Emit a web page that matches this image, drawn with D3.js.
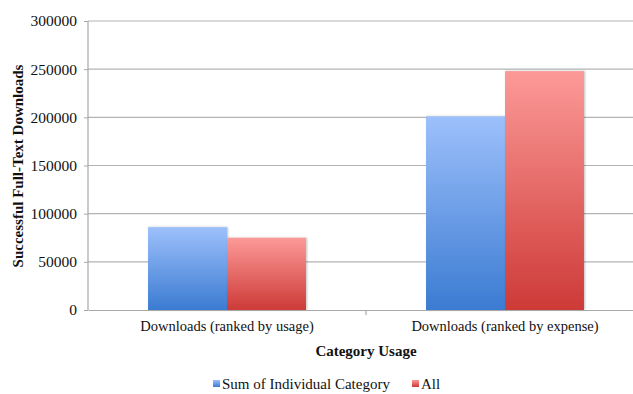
<!DOCTYPE html>
<html><head><meta charset="utf-8">
<script src="https://cdn.jsdelivr.net/npm/d3@7"></script>
<style>body{margin:0;background:#fff}svg{display:block}svg text{font-family:"Liberation Serif",Tinos,"Times New Roman","DejaVu Serif",serif !important;fill:#111}</style>
</head><body><svg id="c" width="633" height="394"></svg>
<script>
const categories = ["Downloads (ranked by usage)", "Downloads (ranked by expense)"];
const seriesNames = ["Sum of Individual Category", "All"];
const sumValues = [86000, 201000];
const allValues = [75000, 248000];
const yTicks = [0, 50000, 100000, 150000, 200000, 250000, 300000];

const svg = d3.select("#c");
const m = {left: 88, top: 21, bottom: 84};
const W = 556, H = 394 - m.top - m.bottom;
const defs = svg.append("defs");
const grads = [["gb", "#9dc0fb", "#3b7bd2"], ["gr", "#fc9a98", "#cd3a37"]];
grads.forEach(([id, a, b]) => {
  const g = defs.append("linearGradient").attr("id", id).attr("x1", 0).attr("x2", 0).attr("y1", 0).attr("y2", 1);
  g.append("stop").attr("offset", "0%").attr("stop-color", a);
  g.append("stop").attr("offset", "100%").attr("stop-color", b);
});
const f = defs.append("filter").attr("id", "sh").attr("x", "-10%").attr("y", "-10%").attr("width", "120%").attr("height", "120%");
f.append("feDropShadow").attr("dx", 1).attr("dy", 0).attr("stdDeviation", 1).attr("flood-color", "#000").attr("flood-opacity", 0.25);

const g = svg.append("g").attr("transform", `translate(${m.left},${m.top})`);
const y = d3.scaleLinear().domain([0, 300000]).range([H, 0]);
const x0 = d3.scaleBand().domain(categories).range([0, W]).paddingInner(0).paddingOuter(0);
const x1 = d3.scaleBand().domain(seriesNames).range([0, x0.bandwidth()]).paddingInner(0).paddingOuter(0.76);

// gridlines
g.append("g").selectAll("line").data(yTicks.filter(d => d > 0)).join("line")
  .attr("x1", 0).attr("x2", W).attr("y1", d => y(d)).attr("y2", d => y(d))
  .attr("stroke", "#b3b3b3").attr("stroke-width", 1.2);

// y axis
const ya = g.append("g").call(d3.axisLeft(y).tickValues(yTicks).tickSize(4).tickPadding(7).tickFormat(d3.format("d")));
ya.attr("font-family", null);
ya.select(".domain").attr("stroke", "#a8a8a8").attr("stroke-width", 1.2).attr("d", `M-4,0.5H0V${H}`);
ya.selectAll(".tick line").attr("stroke", "#a8a8a8");
ya.selectAll("text").style("font-size", "15.5px").attr("fill", "#111");

// bars
const data = categories.map((c, i) => ({c, vals: [{s: seriesNames[0], v: sumValues[i], gid: "gb"}, {s: seriesNames[1], v: allValues[i], gid: "gr"}]}));
g.append("g").selectAll("g").data(data).join("g")
  .attr("transform", d => `translate(${x0(d.c)},0)`)
  .selectAll("rect").data(d => d.vals).join("rect")
  .attr("x", d => x1(d.s)).attr("width", x1.bandwidth())
  .attr("y", d => y(d.v)).attr("height", d => H - y(d.v))
  .attr("fill", d => `url(#${d.gid})`).attr("filter", "url(#sh)");

// x axis
const xa = g.append("g").attr("transform", `translate(0,${H})`).call(d3.axisBottom(x0).tickSize(0).tickPadding(11));
xa.attr("font-family", null);
xa.select(".domain").attr("stroke", "#a8a8a8").attr("stroke-width", 1.2);
xa.selectAll("text").style("font-size", "14.5px").attr("fill", "#111");
g.append("g").selectAll("line").data(categories.slice(1)).join("line")
  .attr("x1", d => x0(d)).attr("x2", d => x0(d)).attr("y1", H).attr("y2", H + 5)
  .attr("stroke", "#a8a8a8").attr("stroke-width", 1.2);

// axis titles
svg.append("text").attr("x", 366).attr("y", 356).attr("text-anchor", "middle")
  .style("font-size", "15px").style("font-weight", "bold").text("Category Usage");
svg.append("text").attr("transform", `translate(23,166) rotate(-90)`).attr("text-anchor", "middle")
  .style("font-size", "15px").style("font-weight", "bold").text("Successful Full-Text Downloads");

// legend
const legend = [{n: seriesNames[0], x: 213, gid: "gb"}, {n: seriesNames[1], x: 412, gid: "gr"}];
const lg = svg.append("g").selectAll("g").data(legend).join("g").attr("transform", d => `translate(${d.x},380)`);
lg.append("rect").attr("width", 7).attr("height", 7).attr("fill", d => `url(#${d.gid})`);
lg.append("text").attr("x", 9).attr("y", 8.5).style("font-size", "15px").text(d => d.n);
</script></body></html>
